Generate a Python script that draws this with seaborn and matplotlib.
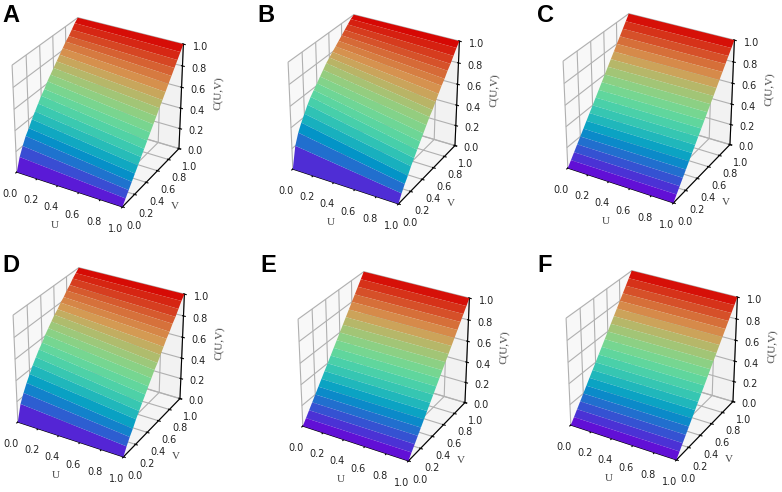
import numpy as np
import matplotlib
matplotlib.use("Agg")
import matplotlib.pyplot as plt
from matplotlib.colors import ListedColormap
import seaborn as sns

# Grid of the two margins (V rows, U columns)
v_grid = [0.00, 0.05, 0.10, 0.15, 0.20, 0.25, 0.30, 0.35, 0.40, 0.45, 0.50,
          0.55, 0.60, 0.65, 0.70, 0.75, 0.80, 0.85, 0.90, 0.95, 1.00]
u_grid = [0.0, 1.0]

# C(U,V) read along the U=0 edge and the U=1 edge of each surface
A_u0 = [0, 0.12, 0.20, 0.27, 0.32, 0.38, 0.43, 0.48, 0.53, 0.57, 0.62,
        0.66, 0.70, 0.74, 0.78, 0.82, 0.86, 0.89, 0.93, 0.97, 1.00]
A_u1 = [0, 0.05, 0.10, 0.15, 0.20, 0.25, 0.30, 0.35, 0.40, 0.45, 0.50,
        0.55, 0.60, 0.65, 0.70, 0.75, 0.80, 0.85, 0.90, 0.95, 1.00]

B_u0 = [0, 0.20, 0.30, 0.37, 0.43, 0.49, 0.54, 0.58, 0.62, 0.66, 0.70,
        0.74, 0.77, 0.80, 0.83, 0.86, 0.89, 0.92, 0.95, 0.98, 1.00]
B_u1 = [0, 0.07, 0.13, 0.18, 0.24, 0.29, 0.34, 0.39, 0.44, 0.49, 0.54,
        0.58, 0.63, 0.68, 0.73, 0.77, 0.82, 0.86, 0.91, 0.96, 1.00]

linear_edge = [0, 0.05, 0.10, 0.15, 0.20, 0.25, 0.30, 0.35, 0.40, 0.45, 0.50,
               0.55, 0.60, 0.65, 0.70, 0.75, 0.80, 0.85, 0.90, 0.95, 1.00]

D_u0 = [0, 0.15, 0.23, 0.30, 0.36, 0.42, 0.47, 0.52, 0.56, 0.61, 0.65,
        0.69, 0.73, 0.76, 0.80, 0.83, 0.87, 0.90, 0.94, 0.97, 1.00]
D_u1 = [0, 0.07, 0.13, 0.18, 0.24, 0.29, 0.34, 0.39, 0.44, 0.49, 0.54,
        0.58, 0.63, 0.68, 0.73, 0.77, 0.82, 0.86, 0.91, 0.96, 1.00]

panels = ["A", "B", "C", "D", "E", "F"]
edges = {"A": (A_u0, A_u1), "B": (B_u0, B_u1), "C": (linear_edge, linear_edge),
         "D": (D_u0, D_u1), "E": (linear_edge, linear_edge),
         "F": (linear_edge, linear_edge)}
ticks = [0.0, 0.2, 0.4, 0.6, 0.8, 1.0]

# seaborn rainbow, a bit darker like the shaded original
base = sns.color_palette("rainbow", as_cmap=True)
cmap = ListedColormap(base(np.linspace(0, 1, 256))[:, :3] * 0.84)
serif = "Liberation Serif"

fig = plt.figure(figsize=(7.82, 4.92), dpi=100)

# axes rectangles in pixels (left, top, width, height)
S = 205
rects = [(-6, 9, S, S), (270, 6, S, S), (545, 5, S, S),
         (-5, 259, S, S), (280, 263, S, S), (548, 262, S, S)]
letters_xy = [(2, 4), (257, 4), (537, 4), (2, 254), (260, 254), (537, 254)]

U, V = np.meshgrid(u_grid, v_grid)

for i, name in enumerate(panels):
    l, t, w, h = rects[i]
    ax = fig.add_axes([l / 782, 1 - (t + h) / 492, w / 782, h / 492], projection="3d")
    ax.set_box_aspect((1, 1, 1))
    Z = np.column_stack(edges[name])
    ax.plot_surface(U, V, Z, cmap=cmap, rstride=1, cstride=1, linewidth=0,
                    antialiased=True, vmin=0, vmax=1)
    ax.set_xlim(0, 1)
    ax.set_ylim(0, 1)
    ax.set_zlim(0, 1)
    ax.set_xticks(ticks)
    ax.set_yticks(ticks)
    ax.set_zticks(ticks)
    ax.tick_params(labelsize=7, pad=0, labelcolor="#222222")
    ax.set_xlabel("U", fontfamily=serif, fontsize=8, labelpad=-4, color="#444444")
    ax.set_ylabel("V", fontfamily=serif, fontsize=8, labelpad=-4, color="#444444")
    ax.set_zlabel("C(U,V)", fontfamily=serif, fontsize=8, labelpad=-3, color="#444444")
    fx, fy = letters_xy[i]
    fig.text(fx / 782, 1 - fy / 492, name, fontsize=17, fontweight="bold",
             fontfamily="Liberation Sans", va="top", ha="left")

fig.savefig("out.png", dpi=100)
